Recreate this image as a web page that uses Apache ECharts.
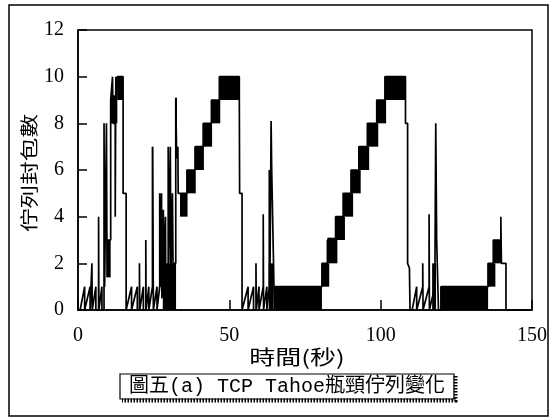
<!DOCTYPE html>
<html><head><meta charset="utf-8">
<script src="https://cdn.jsdelivr.net/npm/echarts@6/dist/echarts.min.js"></script>
<style>html,body{margin:0;padding:0;background:#fff}#c{width:555px;height:418px}</style>
</head><body><div id="c"></div>
<script>
// axis settings
const xMin = 0, xMax = 150, xStep = 50;
const yMin = 0, yMax = 12, yStep = 2;
const yAxisTitle = '佇列封包數';
const xAxisTitle = '時間(秒)';
const caption = '圖五(a) TCP Tahoe瓶頸佇列變化';

// queue length trace [time (s), packets]
const traceA = [
 [0,0],[0.7,0],[2.2,1],[2.2,0],[2.5,0],[4.0,1],[4.0,0],[4.6,0],[4.6,2],[4.7,2],[4.7,0],[4.9,0],[5.9,1],[5.9,0],
 [6.8,0],[6.8,4],[6.9,4],[6.9,0],[7.0,0],[7.9,1],[7.9,0],[8.6,0],[8.6,8],[8.8,8],[8.8,1],[9.4,1],[9.4,8],[9.6,8],
 [9.6,1.4],[10.0,1.4],[10.0,3],[10.8,3],[10.8,9],[11.4,9],[11.4,10],[11.6,10],[11.6,8],[12.3,8],[12.3,4],[12.5,4],
 [12.5,10],[12.8,10],[12.8,9],[13.0,9],[13.0,10],[14.9,10],[14.9,5],[15.9,5],[15.9,0]
];
const traceB = [
 [16.3,0],[17.7,1],[17.7,0],[18.0,0],[19.6,1],[19.6,0],[20.3,0],[20.3,2],[20.4,2],[20.4,0],[20.6,0],[21.6,1],[21.6,0],
 [22.4,0],[22.4,3],[22.5,3],[22.5,0],[22.6,0],[23.4,1],[23.4,0],[23.7,0],[24.6,1],[24.6,7],[24.8,7],[24.8,3],[24.9,3],
 [24.9,0],[25.1,0],[26.1,1],[26.1,0],[26.3,0],[27.0,1],[27.0,5],[27.2,5],[27.2,1],[27.6,1],[27.6,5],[27.7,5],[27.7,0.5],
 [28.2,1],[28.2,4.3],[28.4,4.3],[28.4,1.5],[28.9,1.5],[28.9,4],[29.0,4],[29.0,1],[29.8,1],[29.8,7],[30.0,7],[30.0,2],
 [30.5,2],[30.5,7],[30.7,7],[30.7,1.5],[31.2,1.5],[31.2,5],[31.4,5],[31.4,2],[32.3,2],[32.3,9.1],[32.6,9.1],[32.6,6.5],
 [33.0,6.5],[33.0,7],[33.1,7],[33.1,5],[33.7,5]
];
const traceStairs1 = [
 [36.0,5],[36.0,6],[38.7,6],[38.7,7],[41.4,7],[41.4,8],[44.1,8],[44.1,9],[46.7,9],[46.7,10],[53.3,10],[53.3,9],
 [53.4,9],[53.4,5],[54.2,5],[54.2,0]
];
const traceC = [
 [54.6,0],[56.2,1],[56.2,0],[56.6,0],[58.0,1],[58.0,0],[58.8,0],[58.8,2],[58.9,2],[58.9,0],[59.0,0],[59.8,1],[59.8,0],
 [60.2,0],[61.2,1],[61.2,4.1],[61.3,4.1],[61.3,0],[61.5,0],[62.4,1],[62.4,0],[62.6,0],[63.2,1],[63.2,6],[63.4,6],
 [63.4,1],[63.8,1],[63.8,8.1],[64.0,8.1],[64.0,6],[64.3,6],[64.3,4],[64.9,4],[64.9,0],[65.1,0],[65.1,1],[80.6,1]
];
const traceStairs2 = [
 [80.6,2],[82.4,2],[82.4,3],[85.1,3],[85.1,4],[87.6,4],[87.6,5],[90.2,5],[90.2,6],[92.8,6],[92.8,7],[95.6,7],[95.6,8],
 [98.7,8],[98.7,9],[101.4,9],[101.4,10],[108.2,10],[108.2,8],[108.9,8],[108.9,2],[109.5,1.8],[109.7,0]
];
const traceD = [
 [110.4,0],[111.9,1],[111.9,0],[112.3,0],[113.9,1],[113.9,2],[114.0,2],[114.0,0],[114.4,0],[116.0,1],[116.0,4.1],
 [116.1,4.1],[116.1,0],[116.5,0],[117.9,1],[118.2,1],[118.2,8],[118.5,8],[118.5,3],[119.1,3],[119.1,0],[119.9,0],
 [119.9,1],[135.5,1],[135.5,2],[137.2,2],[137.2,3],[139.7,3],[139.7,4],[139.9,4],[139.9,2],[141.4,2],[141.4,0],[150,0]
];
// rapidly oscillating (filled) regions [t start, t end, q low, q high]
const denseBlocks = [
 [9.6,10.8,1.4,3],[10.9,13.0,8,9.2],[13.0,14.9,9,10],
 [24.6,24.9,3,7],[28.0,32.4,0,2],[32.3,32.7,6.5,9.1],
 [33.7,36.2,4,5],[35.9,38.9,5,6],[38.5,41.6,6,7],[41.2,44.3,7,8],[43.9,47.0,8,9],[46.6,53.4,9,10],
 [63.0,64.6,0,2],[65.1,80.6,0,1],
 [80.5,83.0,1,2],[82.4,85.7,2,3.1],[85.1,88.2,3,4],[87.6,90.9,4,5],[90.2,93.4,5,6],[92.8,96.2,6,7],
 [95.6,99.2,7,8],[98.7,101.8,8,9],[101.4,108.2,9,10],
 [117.0,118.3,0,2],[119.9,135.5,0,1],[135.3,137.9,1,2],[137.2,140.0,2,3]
];

const trace = [].concat(traceA, traceB, traceStairs1, traceC, traceStairs2, traceD);

const chart = echarts.init(document.getElementById('c'), null, {renderer:'canvas'});
const serif = 'Liberation Serif';
chart.setOption({
  animation: false,
  backgroundColor: '#fff',
  grid: {left: 78, right: 23, top: 30, bottom: 108, show: true, borderColor: '#000', borderWidth: 1.5},
  xAxis: {
    type: 'value', min: xMin, max: xMax, interval: xStep,
    axisLine: {lineStyle: {color: '#000', width: 1.5}},
    axisTick: {inside: true, length: 10, lineStyle: {color: '#000', width: 1.5}},
    axisLabel: {color: '#000', fontFamily: serif, fontSize: 20, margin: 16},
    splitLine: {show: false}
  },
  yAxis: {
    type: 'value', min: yMin, max: yMax, interval: yStep,
    axisLine: {lineStyle: {color: '#000', width: 1.5}},
    axisTick: {inside: true, length: 9, lineStyle: {color: '#000', width: 1.5}},
    axisLabel: {color: '#000', fontFamily: serif, fontSize: 20, margin: 14},
    splitLine: {show: false}
  },
  series: [
    {
      type: 'custom',
      data: denseBlocks,
      encode: {x: [0, 1], y: [2, 3]},
      renderItem: function (params, api) {
        const p0 = api.coord([api.value(0), api.value(3)]);
        const p1 = api.coord([api.value(1), api.value(2)]);
        return {type: 'rect', shape: {x: p0[0], y: p0[1], width: p1[0] - p0[0], height: p1[1] - p0[1]},
          style: {fill: '#000'}};
      },
      z: 2
    },
    {
      type: 'line', data: trace, showSymbol: false, symbol: 'none',
      lineStyle: {color: '#000', width: 1.7}, z: 3
    }
  ],
  graphic: [
    {type: 'rect', shape: {x: 9, y: 5, width: 539, height: 411}, style: {fill: null, stroke: '#000', lineWidth: 1.5}, silent: true},
    {type: 'text', x: 29, y: 173, rotation: Math.PI / 2, scaleX: 1.18, scaleY: 0.9,
     style: {text: yAxisTitle, font: '20px "Noto Sans CJK TC"', fill: '#000', textAlign: 'center', textVerticalAlign: 'middle'}},
    {type: 'text', x: 297, y: 357, scaleX: 1.3,
     style: {text: xAxisTitle, font: '20px "Noto Sans CJK TC"', fill: '#000', textAlign: 'center', textVerticalAlign: 'middle'}},
    {type: 'rect', shape: {x: 120, y: 374, width: 334, height: 25}, style: {fill: '#fff', stroke: '#000', lineWidth: 1.2}},
    {type: 'polyline', shape: {points: [[455.5, 376], [455.5, 400.5], [122, 400.5]]},
     style: {stroke: '#000', lineWidth: 4, lineDash: [1.5, 1.5], fill: null}},
    {type: 'text', x: 287, y: 387,
     style: {text: caption, font: '20px "Liberation Mono", "Noto Sans CJK TC"', fill: '#000', textAlign: 'center', textVerticalAlign: 'middle'}}
  ]
});
</script></body></html>
